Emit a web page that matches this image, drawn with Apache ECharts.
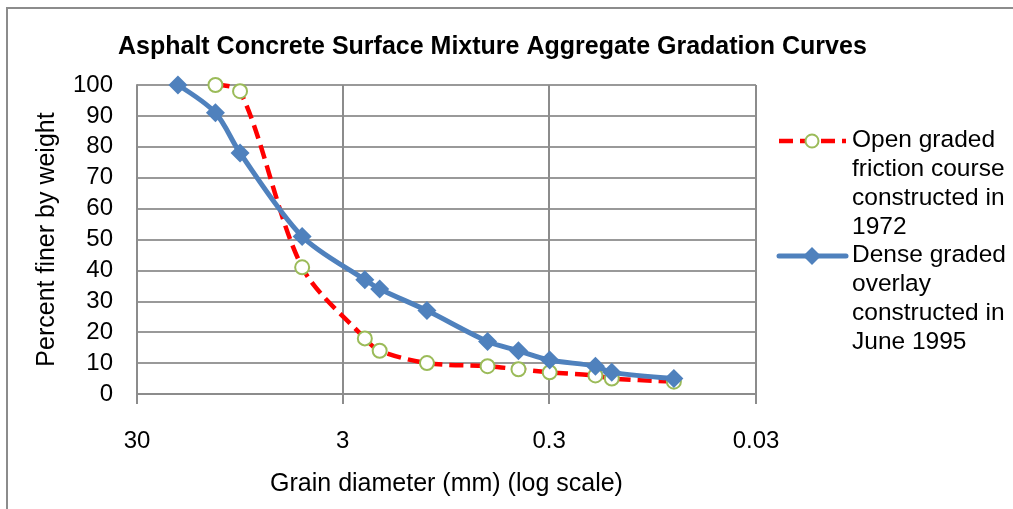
<!DOCTYPE html>
<html><head><meta charset="utf-8">
<script src="https://cdn.jsdelivr.net/npm/echarts@6/dist/echarts.min.js"></script>
<style>html,body{margin:0;padding:0;background:#fff}#c{width:1013px;height:509px}</style>
</head><body><div id="c"></div>
<script>
const chartTitle = 'Asphalt Concrete Surface Mixture Aggregate Gradation Curves';
const xAxisName = 'Grain diameter (mm) (log scale)';
const yAxisName = 'Percent finer by weight';
const seriesNames = ['Open graded friction course constructed in 1972', 'Dense graded overlay constructed in June 1995'];
const legendLines = [['Open graded', 'friction course', 'constructed in', '1972'], ['Dense graded', 'overlay', 'constructed in', 'June 1995']];
const openDiameters = [12.5, 9.5, 4.75, 2.36, 2.0, 1.18, 0.6, 0.425, 0.3, 0.18, 0.15, 0.075];
const openPercent = [100, 98, 41, 18, 14, 10, 9, 8, 7, 6, 5, 4];
const denseDiameters = [19, 12.5, 9.5, 4.75, 2.36, 2.0, 1.18, 0.6, 0.425, 0.3, 0.18, 0.15, 0.075];
const densePercent = [100, 91, 78, 51, 37, 34, 27, 17, 14, 11, 9, 7, 5];
const xTickLabels = [30, 3, 0.3, 0.03];
const yTickLabels = [0, 10, 20, 30, 40, 50, 60, 70, 80, 90, 100];

const FONT = 'Liberation Sans, Arial, sans-serif';
const GRAY = '#8c8c8c';
const RED = '#ff0000';
const BLUE = '#4f81bd';
const GREEN = '#9bbb59';

const chart = echarts.init(document.getElementById('c'), null, {renderer: 'canvas'});

function nearestTick(v) {
  let best = xTickLabels[0];
  xTickLabels.forEach(t => { if (Math.abs(Math.log10(t) - Math.log10(v)) < Math.abs(Math.log10(best) - Math.log10(v))) best = t; });
  return String(best);
}

const legendGraphics = [];
const legendTops = [126, 241];
legendLines.forEach((lines, i) => {
  const cy = legendTops[i] + 15;
  if (i === 0) {
    legendGraphics.push({type: 'line', shape: {x1: 779, y1: cy, x2: 846, y2: cy}, style: {stroke: RED, lineWidth: 4.5, lineDash: [14, 7]}, silent: true});
    legendGraphics.push({type: 'circle', shape: {cx: 812, cy: cy, r: 6.5}, style: {fill: '#fff', stroke: GREEN, lineWidth: 2}, silent: true});
  } else {
    legendGraphics.push({type: 'line', shape: {x1: 779, y1: cy, x2: 846, y2: cy}, style: {stroke: BLUE, lineWidth: 5, lineCap: 'round'}, silent: true});
    legendGraphics.push({type: 'polygon', shape: {points: [[812, cy - 9], [821, cy], [812, cy + 9], [803, cy]]}, style: {fill: BLUE}, silent: true});
  }
  legendGraphics.push({type: 'text', left: 852, top: legendTops[i], style: {text: lines.join('\n'), font: '24.5px ' + FONT, fill: '#000', lineHeight: 29}, silent: true});
});

chart.setOption({
  animation: false,
  backgroundColor: '#fff',
  title: {
    text: chartTitle, left: 113, top: 30,
    textStyle: {fontFamily: FONT, fontSize: 25, fontWeight: 'bold', color: '#000'}
  },
  grid: {left: 137, right: 257, top: 85, bottom: 115, containLabel: false},
  xAxis: {
    type: 'log', logBase: 10, min: 0.03, max: 30, interval: 1, inverse: true,
    name: xAxisName, nameLocation: 'middle', nameGap: 78,
    nameTextStyle: {fontFamily: FONT, fontSize: 25, color: '#000'},
    axisLine: {show: true, lineStyle: {color: GRAY, width: 2}},
    axisTick: {show: true, length: 10, inside: false, lineStyle: {color: GRAY, width: 2}},
    axisLabel: {margin: 35, fontFamily: FONT, fontSize: 24, color: '#000', formatter: v => nearestTick(v)},
    splitLine: {show: true, lineStyle: {color: GRAY, width: 2}},
    minorTick: {show: false}, minorSplitLine: {show: false}
  },
  yAxis: {
    type: 'value', min: 0, max: 100, interval: 10,
    name: yAxisName, nameLocation: 'middle', nameGap: 77, nameRotate: 90,
    nameTextStyle: {fontFamily: FONT, fontSize: 25, color: '#000'},
    axisLine: {show: true, lineStyle: {color: GRAY, width: 2}},
    axisTick: {show: false},
    axisLabel: {margin: 24, fontFamily: FONT, fontSize: 24, color: '#000', formatter: v => yTickLabels.includes(v) ? String(v) : ''},
    splitLine: {show: true, lineStyle: {color: '#999', width: 2}}
  },
  series: [
    {
      name: seriesNames[0], type: 'line', smooth: 0.3, clip: false,
      data: openDiameters.map((d, i) => [d, openPercent[i]]),
      lineStyle: {color: RED, width: 4.5, type: [14, 7]},
      symbol: 'circle', symbolSize: 14, showAllSymbol: true,
      itemStyle: {color: '#fff', borderColor: GREEN, borderWidth: 2},
      z: 2
    },
    {
      name: seriesNames[1], type: 'line', smooth: 0.3, clip: false,
      data: denseDiameters.map((d, i) => [d, densePercent[i]]),
      lineStyle: {color: BLUE, width: 5},
      symbol: 'diamond', symbolSize: [19, 19], showAllSymbol: true,
      itemStyle: {color: BLUE, borderWidth: 0},
      z: 3
    }
  ],
  graphic: [
    {type: 'rect', shape: {x: 7, y: 8, width: 1100, height: 600}, style: {fill: null, stroke: GRAY, lineWidth: 2}, silent: true, z: -10},
    ...legendGraphics
  ]
});
</script>
</body></html>
